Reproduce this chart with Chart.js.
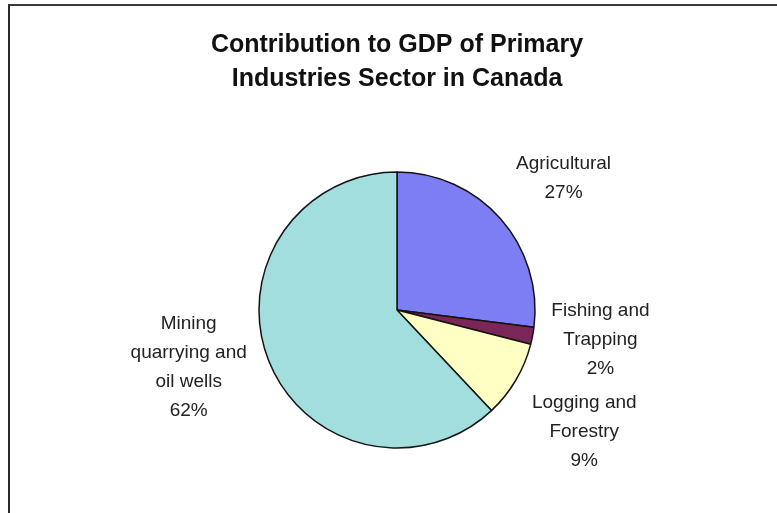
<!DOCTYPE html>
<html>
  <head>
    <title>Contribution to GDP of Primary Industries Sector in Canada</title>
    <script src="https://cdn.jsdelivr.net/npm/chart.js@4"></script>
    <style>
      body {
        margin: 0;
        background: #fff;
      }
      #frame {
        position: absolute;
        left: 8px;
        top: 4px;
        width: 769px;
        height: 509px;
        border-top: 2px solid #3a3a3a;
        border-left: 2px solid #2a2a2a;
        pointer-events: none;
      }
      canvas {
        position: absolute;
        left: 0;
        top: 0;
      }
    </style>
  </head>

  <body>
    <canvas id="canvas" width="777" height="513"></canvas>
    <div id="frame"></div>
    <script>
      // sectors, clockwise from 12 o'clock
      const sectors = ['Agricultural', 'Fishing and Trapping', 'Logging and Forestry', 'Mining quarrying and oil wells'];
      const shares = [27, 2, 9, 62];
      const labelLines = [
        ['Agricultural'],
        ['Fishing and', 'Trapping'],
        ['Logging and', 'Forestry'],
        ['Mining', 'quarrying and', 'oil wells'],
      ];
      const sliceColors = ['#7e7ef4', '#7a2656', '#ffffc4', '#a2dede'];

      // where each label sits: angle nudge (deg) from the slice middle, distance in radii
      const labelPlacement = [
        { nudge: 3, dist: 1.54 },
        { nudge: -2.4, dist: 1.49 },
        { nudge: 2.5, dist: 1.62 },
        { nudge: 6.3, dist: 1.565 },
      ];

      const sliceLabels = {
        id: 'sliceLabels',
        afterDatasetsDraw(chart) {
          const ctx = chart.ctx;
          const meta = chart.getDatasetMeta(0);
          const total = shares.reduce((a, b) => a + b, 0);
          ctx.save();
          ctx.font = '19px "Liberation Sans", Arial, sans-serif';
          ctx.fillStyle = '#222';
          ctx.textAlign = 'center';
          ctx.textBaseline = 'middle';
          meta.data.forEach((arc, i) => {
            const p = labelPlacement[i];
            const mid = (arc.startAngle + arc.endAngle) / 2 + (p.nudge * Math.PI) / 180;
            const r = arc.outerRadius * p.dist;
            const cx = arc.x + Math.cos(mid) * r;
            const cy = arc.y + Math.sin(mid) * r;
            const lines = labelLines[i].concat(Math.round((shares[i] / total) * 100) + '%');
            const lh = 29;
            const y0 = cy - ((lines.length - 1) * lh) / 2;
            lines.forEach((t, j) => ctx.fillText(t, cx, y0 + j * lh));
          });
          ctx.restore();
        },
      };

      window.onload = () => {
        const ctx = document.getElementById('canvas').getContext('2d');
        window.myPie = new Chart(ctx, {
          type: 'pie',
          data: {
            labels: sectors,
            datasets: [
              {
                data: shares,
                backgroundColor: sliceColors,
                borderColor: '#141414',
                borderWidth: 1.5,
                radius: 138,
              },
            ],
          },
          options: {
            responsive: false,
            animation: false,
            layout: {
              padding: { left: 17, right: 0, top: 0, bottom: 0 },
            },
            plugins: {
              legend: { display: false },
              tooltip: { enabled: false },
              title: {
                display: true,
                text: ['Contribution to GDP of Primary', 'Industries Sector in Canada'],
                color: '#111',
                font: { family: '"Liberation Sans", Arial, sans-serif', size: 25, weight: 'bold', lineHeight: '34px' },
                padding: { top: 28, bottom: 11 },
              },
            },
          },
          plugins: [sliceLabels],
        });
      };
    </script>
  </body>
</html>
